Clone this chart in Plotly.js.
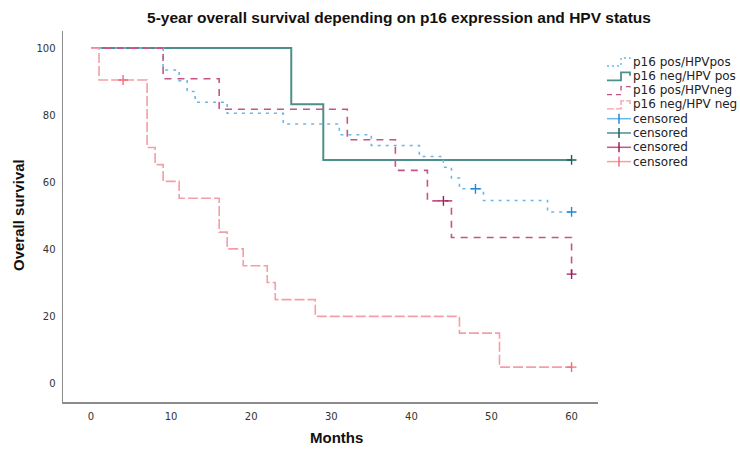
<!DOCTYPE html>
<html>
<head>
<meta charset="utf-8">
<script src="https://cdn.plot.ly/plotly-3.0.1.min.js"></script>
<style>html,body{margin:0;padding:0;background:#fff;}#chart{width:740px;height:450px;}</style>
</head>
<body>
<div id="chart"></div>
<script>
// ---- data ----
var seriesNames = ["p16 pos/HPVpos", "p16 neg/HPV pos", "p16 pos/HPVneg", "p16 neg/HPV neg"];

var posPosMonths = [0, 9, 11, 12, 13, 17, 24, 31, 35, 41, 44, 45, 46, 49, 57, 60];
var posPosSurv   = [100, 93.5, 90.3, 87.1, 83.9, 80.6, 77.4, 74.2, 71.0, 67.7, 64.5, 61.3, 58.1, 54.6, 51.2, 51.2];
var posPosCensMonths = [48, 60];
var posPosCensSurv   = [58.1, 51.2];

var negPosMonths = [0, 25, 29, 60];
var negPosSurv   = [100, 83.3, 66.7, 66.7];
var negPosCensMonths = [60];
var negPosCensSurv   = [66.7];

var posNegMonths = [0, 9, 16, 32, 38, 42, 45, 60];
var posNegSurv   = [100, 90.9, 81.8, 72.7, 63.6, 54.5, 43.6, 32.7];
var posNegCensMonths = [44, 60];
var posNegCensSurv   = [54.5, 32.7];

var negNegMonths = [0, 1, 7, 8, 9, 11, 16, 17, 19, 22, 23, 28, 46, 51, 60];
var negNegSurv   = [100, 90.5, 70.4, 65.3, 60.3, 55.3, 45.2, 40.2, 35.2, 30.2, 25.1, 20.1, 15.1, 5.0, 5.0];
var negNegCensMonths = [4, 60];
var negNegCensSurv   = [90.5, 5.0];

var xTicks = [0, 10, 20, 30, 40, 50, 60];
var yTicks = [0, 20, 40, 60, 80, 100];

// ---- styles ----
var lineColors = ["#6cb6e8", "#4f8f8b", "#c65587", "#f59ea5"];
var censColors = ["#1f8ad9", "#1d5f5a", "#a01d5a", "#f26c78"];
var dashes = ["3px,5px", "solid", "7px,6px", "10px,3px"];
var widths = [1.6, 2, 1.6, 1.6];

var curves = [
  [posPosMonths, posPosSurv],
  [negPosMonths, negPosSurv],
  [posNegMonths, posNegSurv],
  [negNegMonths, negNegSurv]
];
var cens = [
  [posPosCensMonths, posPosCensSurv],
  [negPosCensMonths, negPosCensSurv],
  [posNegCensMonths, posNegCensSurv],
  [negNegCensMonths, negNegCensSurv]
];

var traces = [];
var order = [1, 0, 2, 3];
order.forEach(function (i) {
  traces.push({
    type: "scatter", mode: "lines",
    x: curves[i][0], y: curves[i][1],
    line: {shape: "hv", color: lineColors[i], width: widths[i], dash: dashes[i]},
    name: seriesNames[i], showlegend: false, hoverinfo: "skip"
  });
});
order.forEach(function (i) {
  traces.push({
    type: "scatter", mode: "markers",
    x: cens[i][0], y: cens[i][1],
    marker: {symbol: "cross-thin", size: 7, line: {color: censColors[i], width: 1.4}},
    name: "censored", showlegend: false, hoverinfo: "skip"
  });
});

// ---- plot geometry (pixels) ----
var L = 63, R = 598, T = 31, B = 402;
function px(x) { return (x - L) / (R - L); }
function py(y) { return (B - y) / (B - T); }

// ---- custom legend ----
var shapes = [];
var annotations = [];
var legendLabels = seriesNames.concat(["censored", "censored", "censored", "censored"]);
for (var k = 0; k < 8; k++) {
  var yc = 61.5 + k * 14.3;
  if (k < 4) {
    var path = "M" + px(607) + "," + py(yc + 4.5) + " L" + px(621) + "," + py(yc + 4.5) +
               " L" + px(621) + "," + py(yc - 3.5) + " L" + px(630) + "," + py(yc - 3.5) +
               " L" + px(630) + "," + py(yc);
    shapes.push({type: "path", xref: "paper", yref: "paper", path: path,
      line: {color: lineColors[k], width: widths[k] - 0.2, dash: dashes[k] === "solid" ? "solid" : (k === 0 ? "2px,3px" : (k === 2 ? "5px,4px" : "7px,2px"))}});
  } else {
    var c = censColors[k - 4];
    var lc = lineColors[k - 4];
    shapes.push({type: "line", xref: "paper", yref: "paper", x0: px(607), x1: px(631), y0: py(yc), y1: py(yc),
      line: {color: lc, width: 1.5}});
    shapes.push({type: "line", xref: "paper", yref: "paper", x0: px(619), x1: px(619), y0: py(yc - 5), y1: py(yc + 5),
      line: {color: c, width: 1.5}});
  }
  annotations.push({xref: "paper", yref: "paper", x: px(631), y: py(yc), xanchor: "left", yanchor: "middle",
    text: legendLabels[k], showarrow: false, font: {family: "DejaVu Sans", size: 12, color: "#222"}});
}

annotations.push({xref: "paper", yref: "paper", x: px(336), y: py(438), xanchor: "center", yanchor: "middle",
  text: "Months", showarrow: false, font: {family: "Liberation Sans", size: 15, color: "#111", weight: "bold"}});
annotations.push({xref: "paper", yref: "paper", x: px(18), y: py(215), xanchor: "center", yanchor: "middle",
  text: "Overall survival", textangle: -90, showarrow: false, font: {family: "Liberation Sans", size: 15, color: "#111", weight: "bold"}});

var layout = {
  width: 740, height: 450,
  margin: {l: L, r: 740 - R, t: T, b: 450 - B, pad: 0},
  paper_bgcolor: "#fff", plot_bgcolor: "#fff",
  showlegend: false,
  title: {text: "5-year overall survival depending on p16 expression and HPV status",
    x: 399 / 740, xanchor: "center", xref: "container", y: 1 - 18 / 450, yanchor: "middle", yref: "container",
    font: {family: "Liberation Sans", size: 15.5, color: "#111", weight: "bold"}},
  xaxis: {range: [-3.5, 63.3], tickvals: xTicks, ticktext: xTicks.map(String), showgrid: false, zeroline: false,
    showline: true, linecolor: "#8c8c8c", linewidth: 1.5, ticks: "", ticklabelstandoff: 4,
    tickfont: {family: "DejaVu Sans", size: 10, color: "#333"}},
  yaxis: {range: [-5.4, 105.1], tickvals: yTicks, ticktext: yTicks.map(String), showgrid: false, zeroline: false,
    showline: true, linecolor: "#8c8c8c", linewidth: 1.5, ticks: "", ticklabelstandoff: 4,
    tickfont: {family: "DejaVu Sans", size: 10, color: "#333"}},
  shapes: shapes,
  annotations: annotations
};

Plotly.newPlot("chart", traces, layout, {staticPlot: true, displayModeBar: false});
</script>
</body>
</html>
